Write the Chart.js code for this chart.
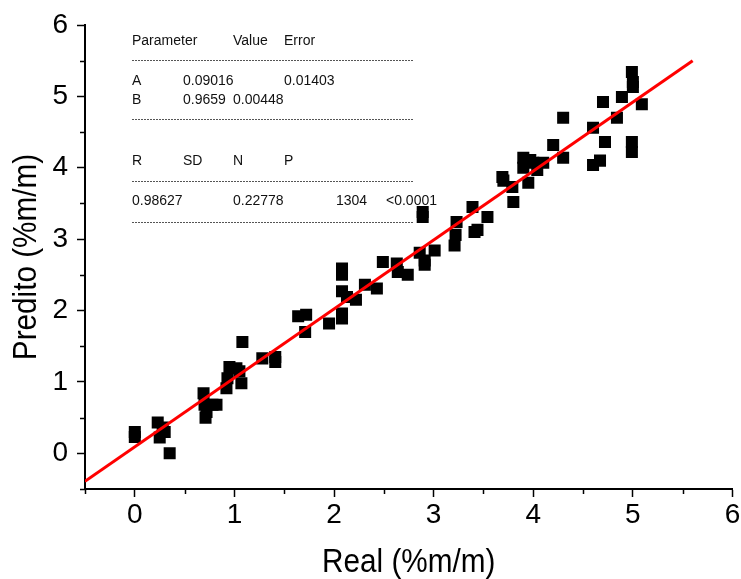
<!DOCTYPE html>
<html lang="pt">
<head>
  <meta charset="UTF-8" />
  <title>Real x Predito</title>
  <script src="https://cdn.jsdelivr.net/npm/chart.js"></script>
  <style>
    html, body { margin: 0; padding: 0; background: #fff; }
    #wrap { width: 741px; height: 579px; }
  </style>
</head>
<body>
  <div id="wrap">
    <canvas id="fit-chart" width="741" height="579"></canvas>
  </div>

  <script>
    // measured vs predicted content (%m/m)
    const realX = [
      0.00, 0.00, 0.23, 0.25, 0.28, 0.30, 0.35,
      0.69, 0.70, 0.71, 0.72, 0.78, 0.82, 0.92, 0.93, 0.95, 1.02, 1.05, 1.07, 1.08,
      1.28, 1.41, 1.41, 1.64, 1.72, 1.71, 1.95,
      2.08, 2.08, 2.08, 2.08, 2.08, 2.13, 2.22, 2.31, 2.43, 2.49, 2.63, 2.64, 2.74,
      2.86, 2.89, 2.89, 2.91, 2.91, 3.01, 3.21, 3.22, 3.23, 3.39, 3.41, 3.44, 3.54,
      3.69, 3.70, 3.79, 3.80, 3.90, 3.90, 3.95, 3.97, 4.00, 4.04, 4.10, 4.20,
      4.30, 4.30, 4.60, 4.60, 4.67, 4.70, 4.72, 4.84, 4.89,
      4.99, 5.00, 5.00, 4.99, 4.99, 5.09
    ];
    const preditoY = [
      0.30, 0.23, 0.43, 0.22, 0.36, 0.30, 0.00,
      0.84, 0.68, 0.50, 0.58, 0.68, 0.68, 0.91, 1.05, 1.21, 1.19, 1.15, 0.98, 1.56,
      1.33, 1.28, 1.35, 1.92, 1.94, 1.70, 1.82,
      2.59, 2.50, 2.27, 1.89, 1.96, 2.19, 2.15, 2.36, 2.31, 2.68, 2.66, 2.54, 2.50,
      2.81, 3.31, 3.38, 2.64, 2.70, 2.84, 2.91, 3.06, 3.24, 3.45, 3.10, 3.13, 3.31,
      3.87, 3.82, 3.73, 3.52, 4.14, 4.00, 3.79, 4.11, 4.07, 3.97, 4.07, 4.32,
      4.70, 4.14, 4.56, 4.04, 4.10, 4.92, 4.36, 4.70, 4.99,
      5.34, 5.20, 5.13, 4.36, 4.22, 4.89
    ];

    // linear fit  Y = A + B * X
    const fitA = 0.09016;
    const fitB = 0.9659;
    const fitRange = [-0.5, 5.6];

    const xTicks = [-0.5, 6, 0.5];   // min, max, step
    const yTicks = [-0.5, 6, 0.5];

    const xTitle = 'Real (%m/m)';
    const yTitle = 'Predito (%m/m)';

    // fit report printed inside the plot
    const reportRows = [
      { y: 45,  cells: [[132, 'Parameter'], [233, 'Value'], [284, 'Error']] },
      { y: 85,  cells: [[132, 'A'], [183, '0.09016'], [284, '0.01403']] },
      { y: 104, cells: [[132, 'B'], [183, '0.9659'], [233, '0.00448']] },
      { y: 165, cells: [[132, 'R'], [183, 'SD'], [233, 'N'], [284, 'P']] },
      { y: 205, cells: [[132, '0.98627'], [233, '0.22778'], [336, '1304'], [386, '<0.0001']] }
    ];
    const reportRules = [60, 119, 181, 222];

    const FONT = "'Liberation Sans', Arial, Helvetica, sans-serif";
    const TITLE_SIZE = 33;
    const TITLE_SQUEEZE = 0.9;   // narrow, Helvetica-condensed look

    const points = realX.map((x, i) => ({ x: x, y: preditoY[i] }));
    const fitLine = fitRange.map(x => ({ x: x, y: fitA + fitB * x }));

    const isMajor = v => Math.abs(v - Math.round(v)) < 1e-9;

    // short outward ticks at the half units
    const minorTicks = {
      id: 'minorTicks',
      afterDraw(chart) {
        const ctx = chart.ctx;
        const xs = chart.scales.x, ys = chart.scales.y;
        ctx.save();
        ctx.strokeStyle = '#000';
        ctx.lineWidth = 1.5;
        ctx.beginPath();
        xs.ticks.forEach(t => {
          if (isMajor(t.value)) return;
          const px = Math.round(xs.getPixelForValue(t.value)) + 0.5;
          ctx.moveTo(px, xs.top);
          ctx.lineTo(px, xs.top + 5);
        });
        ys.ticks.forEach(t => {
          if (isMajor(t.value)) return;
          const py = Math.round(ys.getPixelForValue(t.value)) + 0.5;
          ctx.moveTo(ys.right, py);
          ctx.lineTo(ys.right - 5, py);
        });
        ctx.stroke();
        ctx.restore();
      }
    };

    // axis titles, slightly condensed
    const axisTitles = {
      id: 'axisTitles',
      afterDraw(chart) {
        const ctx = chart.ctx;
        const area = chart.chartArea;
        ctx.save();
        ctx.fillStyle = '#000';
        ctx.font = TITLE_SIZE + 'px ' + FONT;
        ctx.textAlign = 'center';
        ctx.textBaseline = 'alphabetic';

        ctx.save();
        ctx.translate((area.left + area.right) / 2, 572);
        ctx.scale(TITLE_SQUEEZE, 1);
        ctx.fillText(xTitle, 0, 0);
        ctx.restore();

        ctx.save();
        ctx.translate(36, (area.top + area.bottom) / 2);
        ctx.rotate(-Math.PI / 2);
        ctx.scale(TITLE_SQUEEZE, 1);
        ctx.fillText(yTitle, 0, 0);
        ctx.restore();

        ctx.restore();
      }
    };

    const fitReport = {
      id: 'fitReport',
      beforeDatasetsDraw(chart) {
        const ctx = chart.ctx;
        ctx.save();
        ctx.fillStyle = '#111';
        ctx.font = '14px ' + FONT;
        ctx.textBaseline = 'alphabetic';
        ctx.textAlign = 'left';
        reportRows.forEach(row => {
          row.cells.forEach(c => ctx.fillText(c[1], c[0], row.y));
        });
        ctx.strokeStyle = '#555';
        ctx.lineWidth = 1;
        ctx.setLineDash([2, 1]);
        ctx.beginPath();
        reportRules.forEach(y => {
          ctx.moveTo(132, y + 0.5);
          ctx.lineTo(413, y + 0.5);
        });
        ctx.stroke();
        ctx.restore();
      }
    };

    new Chart(document.getElementById('fit-chart'), {
      type: 'scatter',
      data: {
        datasets: [
          {
            label: 'Predito',
            data: points,
            pointStyle: 'rect',
            pointRadius: 8.5,
            pointHoverRadius: 8.5,
            backgroundColor: '#000',
            borderColor: '#000',
            borderWidth: 0,
            order: 1
          },
          {
            type: 'line',
            label: 'Ajuste linear',
            data: fitLine,
            borderColor: '#ff0000',
            borderWidth: 3,
            pointRadius: 0,
            fill: false,
            order: 0
          }
        ]
      },
      options: {
        responsive: false,
        animation: false,
        layout: { padding: { top: 25, right: 8, left: 0, bottom: 0 } },
        plugins: {
          legend: { display: false },
          tooltip: { enabled: false }
        },
        scales: {
          x: {
            type: 'linear',
            min: xTicks[0],
            max: xTicks[1],
            afterFit: s => { s.height = 90; s.paddingLeft = 0; s.paddingRight = 0; },
            border: { display: true, color: '#000', width: 2 },
            grid: {
              drawOnChartArea: false,
              drawTicks: true,
              tickLength: 8,
              tickWidth: 1.5,
              tickColor: c => (c.tick && isMajor(c.tick.value)) ? '#000' : 'rgba(0,0,0,0)'
            },
            ticks: {
              stepSize: xTicks[2],
              autoSkip: false,
              maxRotation: 0,
              padding: 1,
              color: '#000',
              font: { family: FONT, size: 28 },
              callback: v => isMajor(v) ? String(Math.round(v)) : ''
            },
            title: { display: false }
          },
          y: {
            type: 'linear',
            min: yTicks[0],
            max: yTicks[1],
            afterFit: s => { s.width = 85; s.paddingTop = 0; s.paddingBottom = 0; },
            border: { display: true, color: '#000', width: 2 },
            grid: {
              drawOnChartArea: false,
              drawTicks: true,
              tickLength: 8,
              tickWidth: 1.5,
              tickColor: c => (c.tick && isMajor(c.tick.value)) ? '#000' : 'rgba(0,0,0,0)'
            },
            ticks: {
              stepSize: yTicks[2],
              autoSkip: false,
              padding: 9,
              color: '#000',
              font: { family: FONT, size: 28 },
              callback: v => isMajor(v) ? String(Math.round(v)) : ''
            },
            title: { display: false }
          }
        }
      },
      plugins: [fitReport, minorTicks, axisTitles]
    });
  </script>
</body>
</html>
